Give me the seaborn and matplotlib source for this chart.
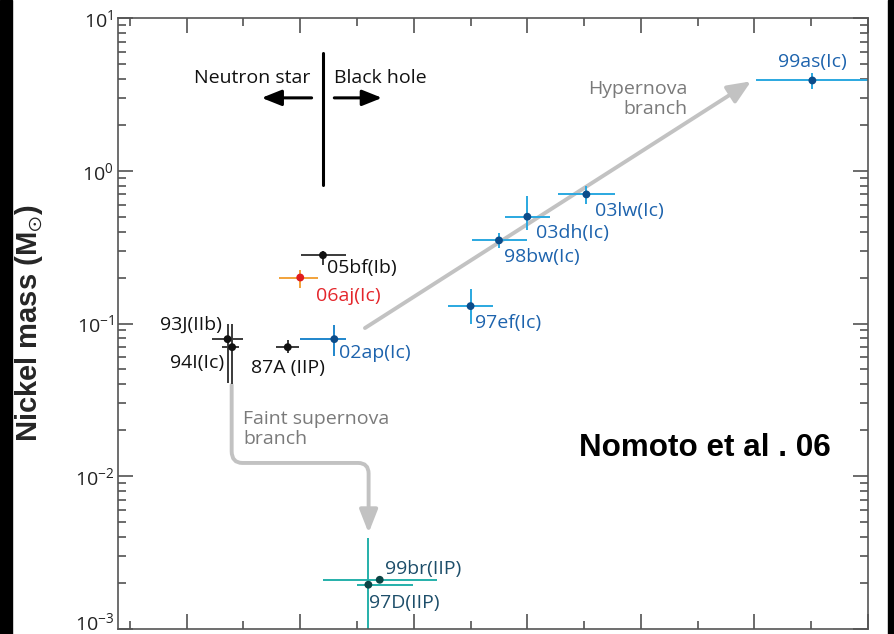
import numpy as np
import pandas as pd
import matplotlib
matplotlib.use("Agg")
import matplotlib.pyplot as plt
import matplotlib.transforms as mtransforms
from matplotlib.path import Path
from matplotlib.patches import FancyArrowPatch, Rectangle
from matplotlib.ticker import MultipleLocator, LogLocator, NullFormatter
import seaborn as sns

# Supernova sample: progenitor main-sequence mass and ejected 56Ni mass (solar units)
names = ["99as(Ic)", "03lw(Ic)", "03dh(Ic)", "98bw(Ic)", "97ef(Ic)", "02ap(Ic)",
         "05bf(Ib)", "06aj(Ic)", "93J(IIb)", "94I(Ic)", "87A (IIP)",
         "99br(IIP)", "97D(IIP)"]
groups = ["hyper", "hyper", "hyper", "hyper", "hyper", "ic",
          "normal", "xrf", "normal", "normal", "normal", "faint", "faint"]
ms_mass = [65.1, 45.2, 40.0, 37.5, 35.0, 23.0, 22.0, 20.0, 13.6, 14.0, 18.9, 27.0, 26.0]
ms_err_lo = [5.0, 2.5, 2.0, 2.4, 2.0, 3.0, 1.9, 1.9, 1.4, 0.9, 1.0, 5.0, 1.0]
ms_err_hi = [5.0, 2.5, 2.0, 2.5, 2.0, 1.0, 2.0, 1.6, 1.4, 0.6, 1.0, 5.0, 3.9]
ni_mass = [3.9, 0.70, 0.50, 0.35, 0.13, 0.079, 0.28, 0.20, 0.079, 0.07, 0.07, 0.0021, 0.00195]
ni_err_lo = [0.48, 0.09, 0.09, 0.04, 0.03, 0.018, 0.04, 0.028, 0.038, 0.03, 0.006, 0.0, 0.0012]
ni_err_hi = [0.48, 0.10, 0.18, 0.043, 0.037, 0.019, 0.02, 0.024, 0.021, 0.03, 0.008, 0.0, 0.002]

df = pd.DataFrame({"name": names, "group": groups, "ms": ms_mass, "ni": ni_mass,
                   "ms_lo": ms_err_lo, "ms_hi": ms_err_hi,
                   "ni_lo": ni_err_lo, "ni_hi": ni_err_hi})

# colours per group: (error bar, marker, label)
group_style = {
    "hyper":  ("#2aa8e0", "#0c4c8a", "#1d63ad"),
    "ic":     ("#1f86cc", "#0c4c8a", "#1d63ad"),
    "normal": ("#3a3a3a", "#111111", "#111111"),
    "xrf":    ("#f2a23a", "#e01b1e", "#e4262b"),
    "faint":  ("#25b0aa", "#0b4545", "#1d4e6a"),
}

# label placement: offset from the point (points) and horizontal alignment
label_place = {
    "99as(Ic)": (0, 13, "center"),
    "03lw(Ic)": (6, -12, "left"),
    "03dh(Ic)": (6, -12, "left"),
    "98bw(Ic)": (3.5, -12, "left"),
    "97ef(Ic)": (3.5, -12, "left"),
    "02ap(Ic)": (3.5, -10, "left"),
    "05bf(Ib)": (3, -9.5, "left"),
    "06aj(Ic)": (11, -13.5, "left"),
    "93J(IIb)": (-4, 10, "right"),
    "94I(Ic)": (-6, -11.5, "right"),
    "87A (IIP)": (0, -15, "center"),
    "99br(IIP)": (4, 7.5, "left"),
    "97D(IIP)": (0.5, -13, "left"),
}

sns.set_theme(style="ticks")
text_font = ["Open Sans", "DejaVu Sans"]
bold_font = ["Liberation Sans", "DejaVu Sans"]
plt.rcParams["font.family"] = text_font
plt.rcParams["font.weight"] = "medium"
plt.rcParams["mathtext.default"] = "regular"
plt.rcParams["mathtext.fontset"] = "dejavusans"

label_size = 14
fig = plt.figure(figsize=(8.94, 6.34), dpi=100)
fig.patch.set_facecolor("white")
ax = fig.add_axes([118 / 894, 5 / 634, 750 / 894, 611 / 634])

for grp, sub in df.groupby("group"):
    ecol, mcol, _ = group_style[grp]
    ax.errorbar(sub["ms"], sub["ni"],
                xerr=[sub["ms_lo"], sub["ms_hi"]],
                yerr=[sub["ni_lo"], sub["ni_hi"]],
                fmt="none", ecolor=ecol, elinewidth=1.4, capsize=0, zorder=2)

palette = {g: s[1] for g, s in group_style.items()}
sns.scatterplot(data=df, x="ms", y="ni", hue="group", palette=palette,
                s=32, edgecolor="none", legend=False, ax=ax, zorder=3)

for _, row in df.iterrows():
    dx, dy, ha = label_place[row["name"]]
    ax.annotate(row["name"], (row["ms"], row["ni"]), xytext=(dx, dy),
                textcoords="offset points", ha=ha, va="center",
                fontsize=label_size, color=group_style[row["group"]][2], zorder=4)

ax.set_yscale("log")
ax.set_xlim(3.95, 70.0)
ax.set_ylim(1e-3, 1e1)
ax.set_xlabel("")
ax.set_ylabel(r"Nickel mass (M$_{\odot}$)", fontsize=21, fontweight="bold",
              family=bold_font)
ax.yaxis.set_label_coords(-0.097, 0.5)

ax.xaxis.set_major_locator(MultipleLocator(10))
ax.xaxis.set_minor_locator(MultipleLocator(5))
ax.yaxis.set_major_locator(LogLocator(base=10, numticks=10))
ax.yaxis.set_minor_locator(LogLocator(base=10, subs=np.arange(2, 10), numticks=20))
ax.yaxis.set_minor_formatter(NullFormatter())
ax.tick_params(which="both", direction="in", top=True, right=True,
               bottom=True, left=True, color="#444444", width=1.1)
ax.tick_params(which="major", length=11, labelsize=14, pad=3, labelcolor="#222222")
ax.tick_params(which="minor", length=5.5)
ax.tick_params(axis="x", labelbottom=False)
for sp in ax.spines.values():
    sp.set_color("#555555")
    sp.set_linewidth(1.2)

# keep the lowest decade label inside the figure
fig.canvas.draw()
lift = mtransforms.ScaledTranslation(0, 6 / 72, fig.dpi_scale_trans)
for tick in ax.yaxis.get_major_ticks():
    if np.isclose(tick.get_loc(), 1e-3):
        tick.label1.set_transform(tick.label1.get_transform() + lift)

# neutron star / black hole divide
ax.plot([22, 22], [0.807, 5.9], color="black", lw=2.2, zorder=3)
ax.annotate("", xy=(16.6, 3.0), xytext=(21.0, 3.0),
            arrowprops=dict(arrowstyle="-|>,head_length=1.0,head_width=0.4",
                            color="black", lw=2.2, shrinkA=0, shrinkB=0))
ax.annotate("", xy=(27.2, 3.0), xytext=(23.0, 3.0),
            arrowprops=dict(arrowstyle="-|>,head_length=1.0,head_width=0.4",
                            color="black", lw=2.2, shrinkA=0, shrinkB=0))
ax.text(20.9, 4.05, "Neutron star", ha="right", va="center", fontsize=label_size,
        color="#111111")
ax.text(23.0, 4.05, "Black hole", ha="left", va="center", fontsize=label_size,
        color="#111111")

# hypernova branch
arrow_grey = "#c2c2c2"
ax.add_patch(FancyArrowPatch((25.7, 0.0934), (59.7, 3.85),
                             arrowstyle="-|>,head_length=14,head_width=6",
                             color=arrow_grey, lw=2.8, shrinkA=0, shrinkB=0, zorder=1))
ax.text(54.1, 2.95, "Hypernova\nbranch", ha="right", va="center", fontsize=label_size,
        color="#7a7a7a", linespacing=1.1)

# faint supernova branch
faint_path = Path(
    [(13.96, 0.0396), (13.96, 0.0146), (13.96, 0.01222), (14.9, 0.01222),
     (25.1, 0.01222), (26.02, 0.01222), (26.02, 0.0104), (26.02, 0.00425)],
    [Path.MOVETO, Path.LINETO, Path.CURVE3, Path.CURVE3,
     Path.LINETO, Path.CURVE3, Path.CURVE3, Path.LINETO])
ax.add_patch(FancyArrowPatch(path=faint_path, transform=ax.transData,
                             arrowstyle="-|>,head_length=14,head_width=5.5",
                             color=arrow_grey, lw=2.8, zorder=1))
ax.text(14.95, 0.0204, "Faint supernova\nbranch", ha="left", va="center",
        fontsize=label_size, color="#7a7a7a", linespacing=1.1)

ax.text(0.6147, 0.2962, "Nomoto et al . 06", transform=ax.transAxes,
        ha="left", va="center", fontsize=22.6, fontweight="bold",
        family=bold_font, color="black")

# dark side bands of the frame
fig.patches.append(Rectangle((0, 0), 12 / 894, 1, transform=fig.transFigure,
                             color="black", zorder=0))
fig.patches.append(Rectangle((888 / 894, 0), 6 / 894, 1, transform=fig.transFigure,
                             color="black", zorder=0))

fig.savefig("out.png", dpi=100, facecolor="white")
